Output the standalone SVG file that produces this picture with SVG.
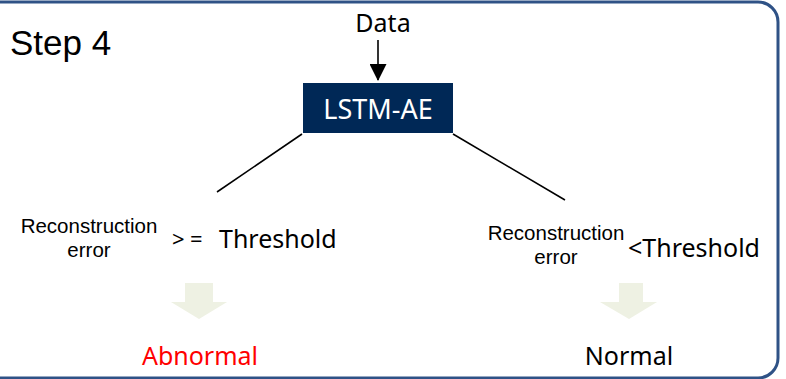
<svg xmlns="http://www.w3.org/2000/svg" width="786" height="379" viewBox="0 0 786 379">
  <style>
    .t { font-family: "Noto Sans", "Open Sans", sans-serif; fill: #000; }
    .small { font-family: "Liberation Sans", Arial, sans-serif; font-size: 20.5px; fill: #000; }
    .big { font-size: 25px; }
    .conn { stroke: #000; stroke-width: 1.6; fill: none; }
    .down { fill: #eef1e3; }
  </style>
  <defs>
    <marker id="ah" markerWidth="17" markerHeight="17" refX="16" refY="8.5" orient="auto" markerUnits="userSpaceOnUse">
      <path d="M0,0 L17,8.5 L0,17 Z" fill="#000"/>
    </marker>
  </defs>
  <rect width="786" height="379" fill="#fff"/>
  <!-- outer frame -->
  <rect x="-20" y="2" width="798" height="376" rx="20" ry="20" fill="none" stroke="#2f5286" stroke-width="3"/>

  <text x="10" y="55" font-family="Liberation Sans, Arial, sans-serif" font-size="35">Step 4</text>

  <g id="data">
    <text class="t" x="383" y="32" font-size="25" text-anchor="middle">Data</text>
  </g>

  <g id="lstm-ae">
    <rect x="303" y="83" width="150" height="50" fill="#002856"/>
    <text class="t" x="378" y="119" font-size="27" text-anchor="middle" style="fill:#fff">LSTM-AE</text>
  </g>

  <g id="connectors">
    <line class="conn" x1="378" y1="40" x2="378" y2="80" marker-end="url(#ah)"/>
    <line class="conn" x1="302" y1="134" x2="217" y2="192"/>
    <line class="conn" x1="453" y1="134" x2="565" y2="200"/>
  </g>

  <g id="cond-abnormal">
    <text class="small" text-anchor="middle"><tspan x="89" y="233">Reconstruction</tspan><tspan x="89" dy="23.5">error</tspan></text>
    <text class="t" x="172" y="247" font-size="22">&gt;</text>
    <text class="t" x="190" y="247" font-size="22">=</text>
    <text class="t big" x="219" y="248">Threshold</text>
  </g>

  <g id="cond-normal">
    <text class="small" text-anchor="middle"><tspan x="556" y="240">Reconstruction</tspan><tspan x="556" dy="23.5">error</tspan></text>
    <text class="t big" x="628" y="257">&lt;Threshold</text>
  </g>

  <g id="arrow-left">
    <path class="down" d="M185,283 H213 V302 H227 L199,319 L171,302 H185 Z"/>
  </g>
  <g id="arrow-right">
    <path class="down" d="M619,283 H643 V302 H657 L629,319 L600,302 H619 Z"/>
  </g>

  <g id="abnormal">
    <text class="t big" x="200" y="365" text-anchor="middle" style="fill:#ff0000">Abnormal</text>
  </g>
  <g id="normal">
    <text class="t big" x="629" y="365" text-anchor="middle">Normal</text>
  </g>
</svg>
